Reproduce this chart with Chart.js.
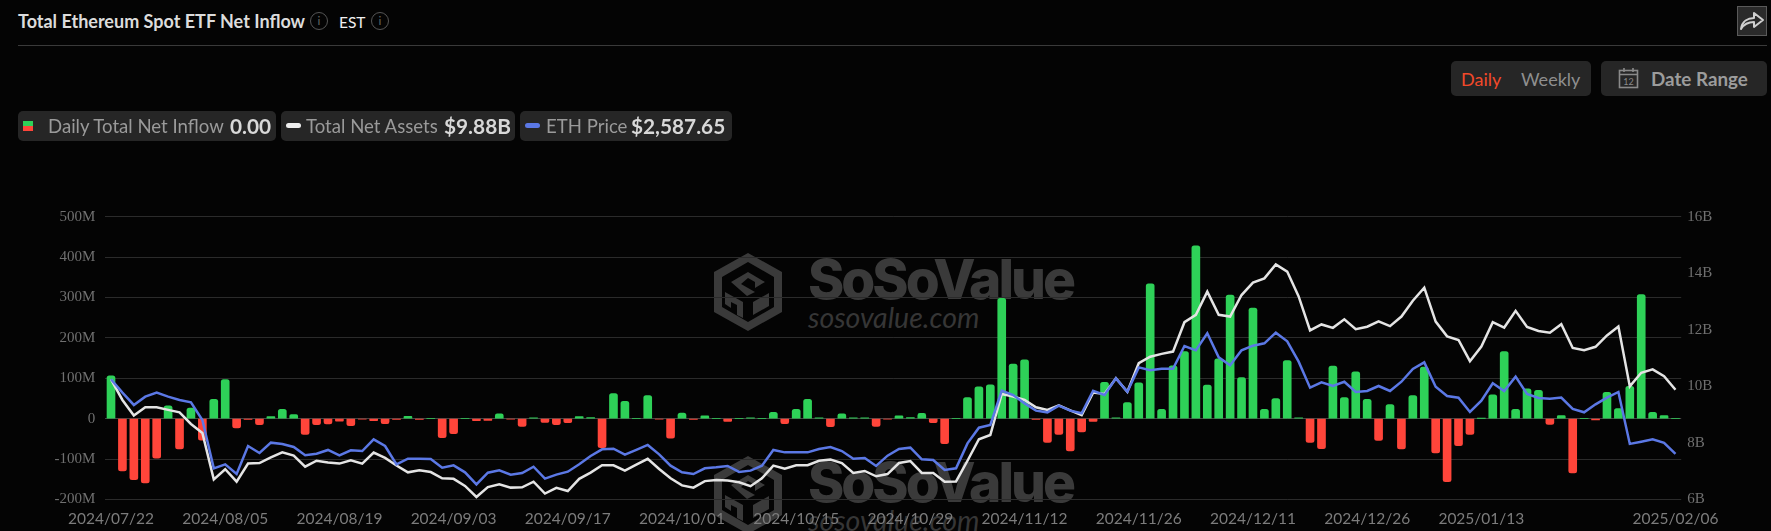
<!DOCTYPE html>
<html><head><meta charset="utf-8">
<script src="https://cdn.jsdelivr.net/npm/chart.js@4"></script>
<style>
html,body{margin:0;padding:0;background:#040404;width:1771px;height:531px;overflow:hidden;font-family:Lato,sans-serif}
#c{position:absolute;left:0;top:0;z-index:2}
.a{position:absolute;white-space:nowrap}
.wm{position:absolute;z-index:1;color:#3a3a3a}
.pill{position:absolute;top:111px;height:30px;background:#262626;border-radius:5px}
.lbl{position:absolute;top:112px;height:28px;line-height:28px;font-size:18.6px;color:#9a9a9a;white-space:nowrap;z-index:3}
.val{position:absolute;top:112px;height:28px;line-height:28px;font-size:20.8px;font-weight:700;color:#d8d8d8;white-space:nowrap;z-index:3}
.info{position:absolute;top:12px;width:16px;height:16px;border:1.5px solid #555;border-radius:50%;color:#666;font:12px/16px Lato;text-align:center}
</style></head><body>
<div class="a" style="left:18px;top:9px;font-size:18px;font-weight:700;color:#dcdcdc;line-height:24px">Total Ethereum Spot ETF Net Inflow</div>
<div class="info" style="left:310px">i</div>
<div class="a" style="left:339px;top:10px;font-size:15.5px;color:#f0f0f0;line-height:24px">EST</div>
<div class="info" style="left:371px">i</div>
<div class="a" style="left:18px;top:45px;width:1749px;height:1px;background:#3a3a3a"></div>
<div class="a" style="left:1737px;top:6px;width:28px;height:28px;background:#2a2a2a;border:1px solid #5a5a5a">
<svg width="28" height="28" viewBox="0 0 28 28"><path d="M3 22 C4 14 10 11 16 11 L16 6 L25 13 L16 20 L16 15 C10 15 6 17 3 22 Z" fill="none" stroke="#cfcfcf" stroke-width="2" stroke-linejoin="round"/></svg></div>
<div class="a" style="left:1451px;top:61px;width:140px;height:35px;background:#262626;border-radius:5px"></div>
<div class="a" style="left:1461px;top:66px;font-size:18px;color:#f2492a;line-height:26px">Daily</div>
<div class="a" style="left:1521px;top:66px;font-size:18px;color:#8f8f8f;line-height:26px">Weekly</div>
<div class="a" style="left:1601px;top:61px;width:166px;height:35px;background:#262626;border-radius:5px"></div>
<svg class="a" style="left:1618px;top:67px" width="21" height="22" viewBox="0 0 21 22"><rect x="1.5" y="3.5" width="18" height="17" fill="none" stroke="#8a8a8a" stroke-width="1.6"/><path d="M1.5 7.5H19.5M6 1V5M15 1V5" stroke="#8a8a8a" stroke-width="1.6"/><text x="10.5" y="18" font-size="9" font-family="Lato" fill="#8a8a8a" text-anchor="middle">12</text></svg>
<div class="a" style="left:1651px;top:66px;font-size:18.8px;font-weight:700;color:#9c9c9c;line-height:26px">Date Range</div>

<div class="pill" style="left:18px;width:258px"></div>
<div class="pill" style="left:281px;width:234px"></div>
<div class="pill" style="left:520px;width:212px"></div>
<div class="a" style="left:23px;top:121px;width:10px;height:5px;background:#2ed158;z-index:3"></div>
<div class="a" style="left:23px;top:126px;width:10px;height:5px;background:#ff453a;z-index:3"></div>
<div class="lbl" style="left:48px">Daily Total Net Inflow</div><div class="val" style="left:230px">0.00</div>
<div class="a" style="left:286px;top:123px;width:15px;height:5px;border-radius:3px;background:#eee;z-index:3"></div>
<div class="lbl" style="left:306px">Total Net Assets</div><div class="val" style="left:444px">$9.88B</div>
<div class="a" style="left:525px;top:123px;width:15px;height:5px;border-radius:3px;background:#5b78e5;z-index:3"></div>
<div class="lbl" style="left:546px">ETH Price</div><div class="val" style="left:631px">$2,587.65</div>

<div id="wm"></div>
<canvas id="c" width="1771" height="531"></canvas>
<script>
const dates=["2024/07/22","2024/07/23","2024/07/24","2024/07/25","2024/07/26","2024/07/29","2024/07/30","2024/07/31","2024/08/01","2024/08/02",
"2024/08/05","2024/08/06","2024/08/07","2024/08/08","2024/08/09","2024/08/12","2024/08/13","2024/08/14","2024/08/15","2024/08/16",
"2024/08/19","2024/08/20","2024/08/21","2024/08/22","2024/08/23","2024/08/26","2024/08/27","2024/08/28","2024/08/29","2024/08/30",
"2024/09/03","2024/09/04","2024/09/05","2024/09/06","2024/09/09","2024/09/10","2024/09/11","2024/09/12","2024/09/13","2024/09/16",
"2024/09/17","2024/09/18","2024/09/19","2024/09/20","2024/09/23","2024/09/24","2024/09/25","2024/09/26","2024/09/27","2024/09/30",
"2024/10/01","2024/10/02","2024/10/03","2024/10/04","2024/10/07","2024/10/08","2024/10/09","2024/10/10","2024/10/11","2024/10/14",
"2024/10/15","2024/10/16","2024/10/17","2024/10/18","2024/10/21","2024/10/22","2024/10/23","2024/10/24","2024/10/25","2024/10/28",
"2024/10/29","2024/10/30","2024/10/31","2024/11/01","2024/11/04","2024/11/05","2024/11/06","2024/11/07","2024/11/08","2024/11/11",
"2024/11/12","2024/11/13","2024/11/14","2024/11/15","2024/11/18","2024/11/19","2024/11/20","2024/11/21","2024/11/22","2024/11/25",
"2024/11/26","2024/11/27","2024/11/29","2024/12/02","2024/12/03","2024/12/04","2024/12/05","2024/12/06","2024/12/09","2024/12/10",
"2024/12/11","2024/12/12","2024/12/13","2024/12/16","2024/12/17","2024/12/18","2024/12/19","2024/12/20","2024/12/23","2024/12/24",
"2024/12/26","2024/12/27","2024/12/30","2024/12/31","2025/01/02","2025/01/03","2025/01/06","2025/01/07","2025/01/08","2025/01/10",
"2025/01/13","2025/01/14","2025/01/15","2025/01/16","2025/01/17","2025/01/21","2025/01/22","2025/01/23","2025/01/24","2025/01/27",
"2025/01/28","2025/01/29","2025/01/30","2025/01/31","2025/02/03","2025/02/04","2025/02/05","2025/02/06"];
const xTickLabels=["2024/07/22","2024/08/05","2024/08/19","2024/09/03","2024/09/17","2024/10/01","2024/10/15","2024/10/29","2024/11/12","2024/11/26","2024/12/11","2024/12/26","2025/01/13","2025/02/06"];
const netInflow=[106,-129,-151,-159,-98,32,-75,26,-53,48,
97,-23,-2,-15,5,23,10,-39,-15,-13,
-6,-17,-1,-5,-12,-2,6,-2,0,-47,
-37,0,-5,-4,12,-1,-19,2,-9,-15,
-10,5,3,-72,62,43,0,57,-1,-48,
14,-2,7,0,-7,0,2,0,16,-12,
23,48,2,-20,12,2,2,-19,-1,7,
3,13,-10,-62,0,52,79,84,298,135,
146,-2,-59,-39,-80,-33,-7,90,2,40,
89,334,23,131,166,428,83,148,306,102,
274,23,50,144,2,-59,-74,130,52,116,
48,-54,35,-75,57,128,-85,-156,-67,-39,
1,59,166,23,74,70,-14,8,-134,0,
-3,65,25,80,307,16,8,0];
const netAssets=[10.25,9.52,8.97,9.26,9.26,9.17,9.08,8.67,8.35,6.71,
7.07,6.63,7.27,7.29,7.49,7.67,7.55,7.16,7.37,7.31,
7.27,7.39,7.27,7.66,7.47,7.20,6.96,7.03,6.97,6.75,
6.73,6.48,6.09,6.44,6.54,6.42,6.43,6.63,6.21,6.41,
6.30,6.73,6.95,7.21,7.21,7.02,7.23,7.44,7.08,6.75,
6.50,6.42,6.65,6.69,6.67,6.61,6.47,6.75,7.20,7.09,
7.21,7.21,7.37,7.41,7.29,6.94,7.01,6.82,6.90,7.29,
7.36,6.94,6.94,6.63,6.64,7.37,8.13,8.28,9.73,9.64,
9.52,9.26,9.17,9.33,9.15,8.98,9.78,9.73,10.29,9.81,
10.82,11.05,11.15,11.23,12.27,12.53,13.35,12.53,12.47,13.23,
13.67,13.82,14.31,14.06,13.18,11.98,12.19,12.07,12.37,12.02,
12.11,12.30,12.13,12.47,13.03,13.49,12.29,11.77,11.64,10.89,
11.41,12.27,12.08,12.67,12.10,11.96,11.90,12.20,11.36,11.28,
11.40,11.80,12.12,10.00,10.48,10.60,10.36,9.88];
const ethPrice=[3425,3275,3137,3230,3275,3230,3193,3166,2968,2426,
2471,2362,2676,2598,2714,2699,2665,2572,2590,2632,
2572,2628,2620,2751,2676,2471,2534,2534,2531,2433,
2459,2381,2246,2377,2403,2355,2373,2444,2310,2355,
2388,2471,2564,2639,2646,2579,2632,2688,2583,2456,
2381,2362,2426,2437,2452,2385,2400,2456,2632,2605,
2605,2605,2643,2665,2620,2534,2542,2452,2568,2643,
2658,2527,2519,2407,2426,2706,2882,2912,3297,3249,
3155,3073,3054,3129,3073,3043,3297,3249,3436,3286,
3559,3526,3544,3544,3799,3750,3941,3672,3582,3750,
3802,3829,3948,3851,3623,3331,3391,3350,3398,3282,
3294,3350,3294,3398,3541,3615,3342,3238,3219,3058,
3185,3380,3294,3455,3260,3215,3208,3220,3093,3055,
3144,3220,3283,2700,2725,2751,2713,2587.65];

function watermark(top){
  const hex=`<svg class="wm" style="left:713px;top:${top}px" width="70" height="80" viewBox="0 0 70 80">
  <path d="M35 1 L69 20 V60 L35 79 L1 60 V20 Z M35 10 L9 25 V55 L35 70 L61 55 V25 Z" fill="#3a3a3a" fill-rule="evenodd"/>
  <path d="M18 30 L35 20 L52 30 L42 36 L42 30 L35 26 L28 32 L42 40 L34 44 Z M12 40 L30 50 V66 L24 63 V53 L18 50 V56 L12 52 Z M40 50 L56 41 V54 L40 63 Z" fill="#3a3a3a"/></svg>`;
  return hex+`<div class="wm" style="left:808px;top:${top-2}px;font:800 55px/58px Inter,sans-serif;letter-spacing:-3px">SoSoValue</div>
  <div class="wm" style="left:808px;top:${top+50}px;font:italic 400 28.5px/30px Lato,sans-serif;color:#363636">sosovalue.com</div>`;
}
document.getElementById('wm').innerHTML=watermark(252)+watermark(455);

const tickFont={family:'"Liberation Serif",serif',size:15};
function fixV(w){return s=>{s.width=w;s.paddingTop=0;s.paddingBottom=0;};}
new Chart(document.getElementById('c'),{
  data:{labels:dates,datasets:[
    {type:'line',label:'ETH Price',data:ethPrice,yAxisID:'yEth',borderColor:'#5b78e5',borderWidth:2.5,pointRadius:0,tension:0,order:1},
    {type:'line',label:'Total Net Assets',data:netAssets,yAxisID:'yAssets',borderColor:'#e4e4e4',borderWidth:2.5,pointRadius:0,tension:0,order:2},
    {type:'bar',label:'Daily Total Net Inflow',data:netInflow,yAxisID:'yFlow',barThickness:8,borderRadius:2.5,order:3,
     backgroundColor:c=>c.raw>=0?'#2ed158':'#ff453a'}
  ]},
  options:{responsive:false,animation:false,devicePixelRatio:1,
    layout:{padding:{top:216.7,left:0,right:0,bottom:0}},
    plugins:{legend:{display:false},tooltip:{enabled:false},title:{display:false}},
    scales:{
      x:{type:'category',offset:true,grid:{display:false},border:{display:false},
        afterFit:s=>{s.height=31.5;s.paddingLeft=0;s.paddingRight=0;},
        ticks:{autoSkip:false,maxRotation:0,minRotation:0,padding:2,color:'#7c7c7c',font:{family:'Lato,sans-serif',size:15.5},
          callback(v){const d=this.getLabelForValue(v);return xTickLabels.includes(d)?d:null;}}},
      yFlow:{position:'left',min:-200,max:500,afterFit:fixV(105.3),border:{display:false},
        grid:{color:c=>c.tick.value===0?'#444444':'#2b2b2b',lineWidth:1,drawTicks:false},
        ticks:{stepSize:100,padding:10,color:'#707070',font:tickFont,callback:v=>v===0?'0':v+'M'}},
      yAssets:{position:'right',min:6,max:16,afterFit:fixV(89.8),border:{display:false},grid:{display:false,drawTicks:false},
        ticks:{stepSize:2,padding:6,color:'#707070',font:tickFont,callback:v=>v+'B'}},
      yEth:{display:false,min:2076,max:5250}
    }
  }
});
</script>
</body></html>
